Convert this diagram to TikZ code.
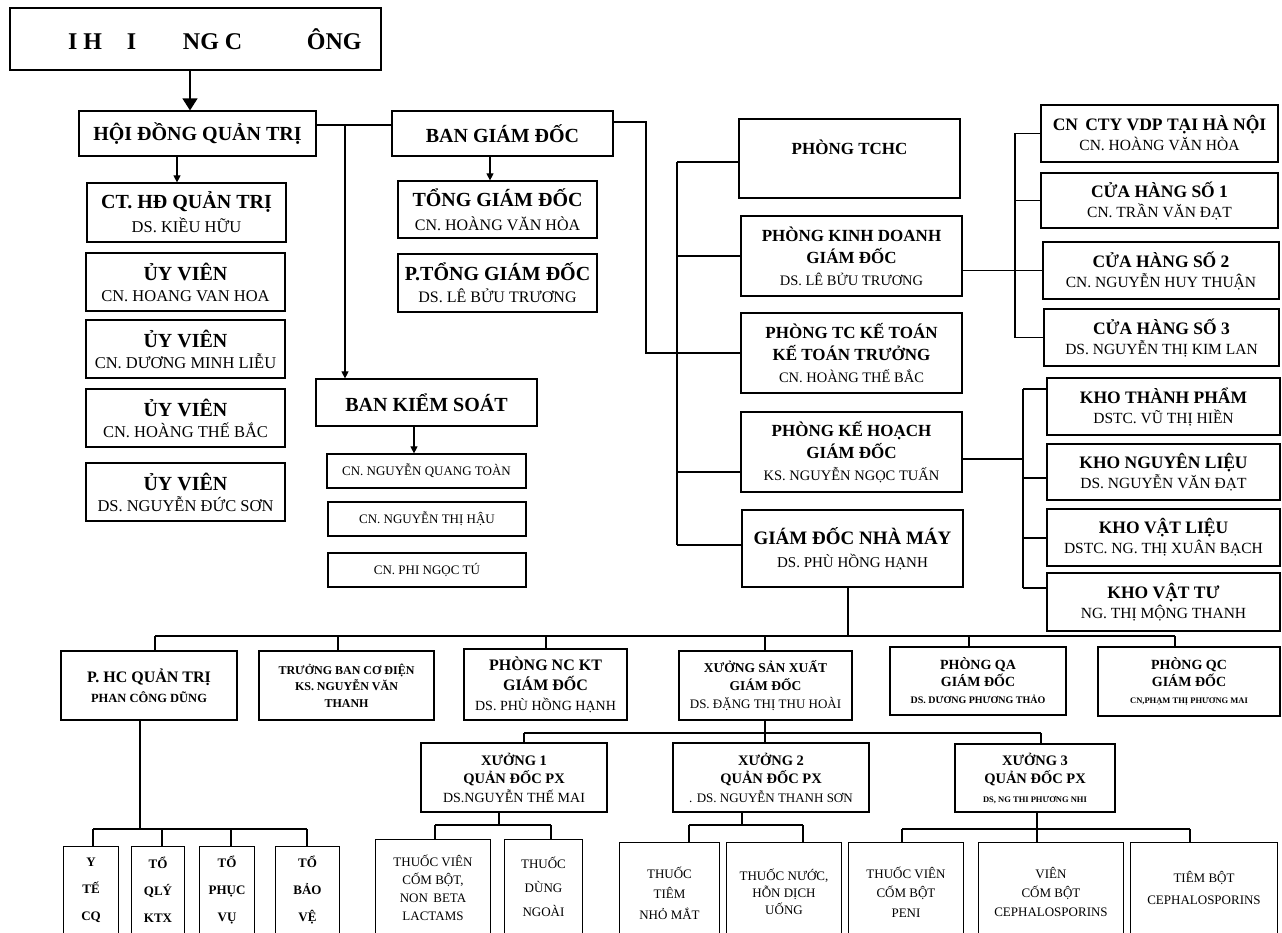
\documentclass[tikz,border=0pt]{standalone}
\usepackage{fontspec}
\setmainfont{Liberation Serif}
\usetikzlibrary{arrows.meta}
\newcommand\subt[2]{{\fontsize{#1}{#1}\selectfont\mdseries #2}}
\newcommand\subb[2]{{\fontsize{#1}{#1}\selectfont\bfseries #2}}
\newcommand\openbox[1]{\draw[bxl] ([yshift=-30pt]#1.south west) -- (#1.north west) -- (#1.north east) -- ([yshift=-30pt]#1.south east);}
\tikzset{
  bx/.style={draw, line width=1.2pt, align=center, inner sep=0pt},
  bxl/.style={line width=1.2pt},
  ob/.style={align=center, inner sep=0pt, font=\fontsize{13}{20}\selectfont},
  ln/.style={line width=1.1pt},
  arr/.style={line width=1.1pt, -{Triangle[length=7pt,width=7pt]}},
  bigarr/.style={line width=1.3pt, -{Triangle[length=12pt,width=15pt]}},
  tA/.style={font=\fontsize{20}{24}\selectfont\bfseries},
  tB/.style={font=\fontsize{17}{22}\selectfont\bfseries},
  tC/.style={font=\fontsize{17.5}{20}\selectfont\bfseries},
  tD/.style={font=\fontsize{14.5}{18.5}\selectfont\bfseries},
}
\begin{document}
\begin{tikzpicture}[x=1pt,y=-1pt]
\useasboundingbox (0,0) rectangle (1282,933);
\clip (0,0) rectangle (1282,933);

% ---------- top ----------
\node[bx, minimum width=371pt, minimum height=62pt, font=\fontsize{24}{28}\selectfont\bfseries] (top) at (195.5,39)
  {\makebox[371pt][l]{\hspace{58pt}\rlap{I H}\hspace{59pt}\rlap{I}\hspace{56pt}\rlap{NG C}\hspace{124pt}\rlap{ÔNG}}};

% ---------- left column ----------
\node[bx, tA, minimum width=237pt, minimum height=45pt] (hdqt) at (197.5,133.5) {HỘI ĐỒNG QUẢN TRỊ};
\node[bx, tA, minimum width=199pt, minimum height=59pt] (ct) at (186.5,212.5) {CT. HĐ QUẢN TRỊ\\\subt{16.5}{DS. KIỀU HỮU}};
\node[bx, tA, minimum width=199pt, minimum height=58pt, font=\fontsize{20}{21}\selectfont\bfseries] (uv1) at (185.5,282) {ỦY VIÊN\\\subt{16.5}{CN. HOANG VAN HOA}};
\node[bx, tA, minimum width=199pt, minimum height=58pt, font=\fontsize{20}{21}\selectfont\bfseries] (uv2) at (185.5,349) {ỦY VIÊN\\\subt{16.5}{CN. DƯƠNG MINH LIỄU}};
\node[bx, tA, minimum width=199pt, minimum height=58pt, font=\fontsize{20}{21}\selectfont\bfseries] (uv3) at (185.5,418) {ỦY VIÊN\\\subt{16.5}{CN. HOÀNG THẾ BẮC}};
\node[bx, tA, minimum width=199pt, minimum height=58pt, font=\fontsize{20}{21}\selectfont\bfseries] (uv4) at (185.5,492) {ỦY VIÊN\\\subt{16.5}{DS. NGUYỄN ĐỨC SƠN}};

% ---------- ban giam doc / kiem soat ----------
\node[bx, tA, minimum width=221pt, minimum height=45pt] (bgd) at (502.5,133.5) {BAN GIÁM ĐỐC};
\node[bx, tA, minimum width=199pt, minimum height=57pt] (tgd) at (497.5,209.5) {TỔNG GIÁM ĐỐC\\\subt{16}{CN. HOÀNG VĂN HÒA}};
\node[bx, tA, minimum width=199pt, minimum height=58pt, font=\fontsize{20}{22}\selectfont\bfseries] (ptgd) at (497.5,283) {P.TỔNG GIÁM ĐỐC\\\subt{16}{DS. LÊ BỬU TRƯƠNG}};
\node[bx, tA, minimum width=221pt, minimum height=47pt] (bks) at (426.5,402.5) {BAN KIỂM SOÁT};
\node[bx, minimum width=199pt, minimum height=34pt, font=\fontsize{13}{15}\selectfont] (ks1) at (426.5,471) {CN. NGUYỄN QUANG TOÀN};
\node[bx, minimum width=198pt, minimum height=34pt, font=\fontsize{13}{15}\selectfont] (ks2) at (427,519) {CN. NGUYỄN THỊ HẬU};
\node[bx, minimum width=198pt, minimum height=34pt, font=\fontsize{13}{15}\selectfont] (ks3) at (427,570) {CN. PHI NGỌC TÚ};

% ---------- phong ban ----------
\node[bx, tB, minimum width=221pt, minimum height=79pt] (tchc) at (849.5,158.5) {PHÒNG TCHC\\~};
\node[bx, tB, minimum width=221pt, minimum height=80pt] (kd) at (851.5,256) {PHÒNG KINH DOANH\\GIÁM ĐỐC\\\subt{14.5}{DS. LÊ BỬU TRƯƠNG}};
\node[bx, tB, minimum width=221pt, minimum height=80pt] (tckt) at (851.5,353) {PHÒNG TC KẾ TOÁN\\KẾ TOÁN TRƯỞNG\\\subt{14.5}{CN. HOÀNG THẾ BẮC}};
\node[bx, tB, minimum width=221pt, minimum height=80pt] (kh) at (851.5,452) {PHÒNG KẾ HOẠCH\\GIÁM ĐỐC\\\subt{14.5}{KS. NGUYỄN NGỌC TUẤN}};
\node[bx, minimum width=221pt, minimum height=77pt, font=\fontsize{19}{23}\selectfont\bfseries] (gdnm) at (852.5,548.5) {GIÁM ĐỐC NHÀ MÁY\\\subt{15}{DS. PHÙ HỒNG HẠNH}};

% ---------- right column ----------
\node[bx, tC, minimum width=237pt, minimum height=57pt] (cn) at (1159.5,133.5) {CN\, CTY VDP TẠI HÀ NỘI\\\subt{15.5}{CN. HOÀNG VĂN HÒA}};
\node[bx, tC, minimum width=237pt, minimum height=55pt] (ch1) at (1159.5,200.5) {CỬA HÀNG SỐ 1\\\subt{15.5}{CN. TRẦN VĂN ĐẠT}};
\node[bx, tC, minimum width=236pt, minimum height=57pt] (ch2) at (1161,270.5) {CỬA HÀNG SỐ 2\\\subt{15.5}{CN. NGUYỄN HUY THUẬN}};
\node[bx, tC, minimum width=235pt, minimum height=57pt] (ch3) at (1161.5,337.5) {CỬA HÀNG SỐ 3\\\subt{15.5}{DS. NGUYỄN THỊ KIM LAN}};
\node[bx, tC, minimum width=233pt, minimum height=57pt] (ktp) at (1163.5,406.5) {KHO THÀNH PHẨM\\\subt{15.5}{DSTC. VŨ THỊ HIỀN}};
\node[bx, tC, minimum width=233pt, minimum height=56pt] (knl) at (1163.5,472) {KHO NGUYÊN LIỆU\\\subt{15.5}{DS. NGUYỄN VĂN ĐẠT}};
\node[bx, tC, minimum width=233pt, minimum height=57pt] (kvl) at (1163.5,537.5) {KHO VẬT LIỆU\\\subt{15.5}{DSTC. NG. THỊ XUÂN BẠCH}};
\node[bx, tC, minimum width=233pt, minimum height=58pt] (kvt) at (1163.5,602) {KHO VẬT TƯ\\\subt{15.5}{NG. THỊ MỘNG THANH}};

% ---------- bottom row 1 ----------
\node[bx, minimum width=176pt, minimum height=69pt, font=\fontsize{16}{20}\selectfont\bfseries] (phc) at (149,685.5) {P. HC QUẢN TRỊ\\\subb{12.5}{PHAN CÔNG DŨNG}};
\node[bx, minimum width=175pt, minimum height=69pt, font=\fontsize{12}{16.5}\selectfont\bfseries] (tbcd) at (346.5,685.5) {TRƯỞNG BAN CƠ ĐIỆN\\KS. NGUYỄN VĂN\\THANH};
\node[bx, minimum width=163pt, minimum height=71pt, font=\fontsize{16}{20}\selectfont\bfseries] (nckt) at (545.5,684.5) {PHÒNG NC KT\\GIÁM ĐỐC\\\subt{14}{DS. PHÙ HỒNG HẠNH}};
\node[bx, minimum width=173pt, minimum height=69pt, font=\fontsize{13.5}{18}\selectfont\bfseries] (xsx) at (765.5,685.5) {XƯỞNG SẢN XUẤT\\GIÁM ĐỐC\\\subt{13}{DS. ĐẶNG THỊ THU HOÀI}};
\node[bx, minimum width=176pt, minimum height=68pt, font=\fontsize{14}{17}\selectfont\bfseries] (pqa) at (978,681) {PHÒNG QA\\GIÁM ĐỐC\\\subb{10}{DS. DƯƠNG PHƯƠNG THẢO}};
\node[bx, minimum width=182pt, minimum height=69pt, font=\fontsize{14}{17}\selectfont\bfseries] (pqc) at (1189,681.5) {PHÒNG QC\\GIÁM ĐỐC\\\subb{8.5}{CN,PHẠM THỊ PHƯƠNG MAI}};

% ---------- xuong ----------
\node[bx, tD, minimum width=186pt, minimum height=69pt] (x1) at (514,777.5) {XƯỞNG 1\\QUẢN ĐỐC PX\\\subt{14}{DS.NGUYỄN THẾ MAI}};
\node[bx, tD, minimum width=196pt, minimum height=69pt] (x2) at (771,777.5) {XƯỞNG 2\\QUẢN ĐỐC PX\\\subt{13}{. DS. NGUYỄN THANH SƠN}};
\node[bx, tD, minimum width=160pt, minimum height=68pt] (x3) at (1035,778) {XƯỞNG 3\\QUẢN ĐỐC PX\\\subb{8.5}{DS, NG THI PHƯƠNG NHI}};

% ---------- bottom open boxes ----------
\node[ob, minimum width=54pt, minimum height=86pt, font=\fontsize{13}{27}\selectfont\bfseries] (yte) at (91,890) {Y\\TẾ\\CQ};
\node[ob, minimum width=52pt, minimum height=86pt, font=\fontsize{13}{27}\selectfont\bfseries] (qly) at (158,890) {TỔ\\QLÝ\\KTX};
\node[ob, minimum width=54pt, minimum height=86pt, font=\fontsize{13}{27}\selectfont\bfseries] (pv) at (227,890) {TỔ\\PHỤC\\VỤ};
\node[ob, minimum width=63pt, minimum height=86pt, font=\fontsize{13}{27}\selectfont\bfseries] (bv) at (307.5,890) {TỔ\\BẢO\\VỆ};
\node[ob, minimum width=114pt, minimum height=96pt, font=\fontsize{13}{18}\selectfont] (tv1) at (433,888) {THUỐC VIÊN\\CỐM BỘT,\\NON\, BETA\\LACTAMS};
\node[ob, minimum width=77pt, minimum height=94pt, font=\fontsize{13}{24}\selectfont] (tdn) at (543.5,887) {THUỐC\\DÙNG\\NGOÀI};
\node[ob, minimum width=99pt, minimum height=100pt, font=\fontsize{13}{20.5}\selectfont] (tt) at (669.5,893) {THUỐC\\TIÊM\\NHỎ MẮT};
\node[ob, minimum width=114pt, minimum height=98pt, font=\fontsize{13}{17}\selectfont] (tn) at (784,892) {THUỐC NƯỚC,\\HỖN DỊCH\\UỐNG};
\node[ob, minimum width=114pt, minimum height=98pt, font=\fontsize{13}{19.5}\selectfont] (peni) at (906,892) {THUỐC VIÊN\\CỐM BỘT\\PENI};
\node[ob, minimum width=144pt, minimum height=98pt, font=\fontsize{13}{19}\selectfont] (vien) at (1051,892) {VIÊN\\CỐM BỘT\\CEPHALOSPORINS};
\node[ob, minimum width=146pt, minimum height=90pt, font=\fontsize{13}{22}\selectfont] (tiem) at (1204,888) {TIÊM BỘT\\CEPHALOSPORINS};
\openbox{yte}\openbox{qly}\openbox{pv}\openbox{bv}
\openbox{tv1}\openbox{tdn}\openbox{tt}\openbox{tn}
\openbox{peni}\openbox{vien}\openbox{tiem}

% ---------- connectors ----------
\coordinate (ca0) at (190,0);
\draw[bigarr] (top.south -| ca0) -- (hdqt.north -| ca0);
\coordinate (ca1) at (177,0);
\draw[arr] (hdqt.south -| ca1) -- (ct.north -| ca1);
\coordinate (cj1) at (345,125);
\draw[ln] (hdqt.east |- cj1) -- (bgd.west |- cj1);
\draw[arr] (cj1) -- (bks.north -| cj1);
\coordinate (ca2) at (490,0);
\draw[arr] (bgd.south -| ca2) -- (tgd.north -| ca2);
\coordinate (ca3) at (414,0);
\draw[arr] (bks.south -| ca3) -- (ks1.north -| ca3);
\coordinate (cr1) at (646,122);
\draw[ln] (bgd.east |- cr1) -- (cr1) -- (cr1 |- tckt.west) -- (tckt.west);

\coordinate (cv1) at (677,162);
\coordinate (cv2) at (677,545);
\coordinate (cv3) at (677,472);
\draw[ln] (cv1) -- (cv2);
\draw[ln] (cv1) -- (cv1 -| tchc.west);
\draw[ln] (kd.west -| cv1) -- (kd.west);
\draw[ln] (cv3) -- (cv3 -| kh.west);
\draw[ln] (cv2) -- (cv2 -| gdnm.west);

\coordinate (cc0) at (1015,0);
\draw[ln] (kd.east |- ch2.west) -- (ch2.west);
\draw[ln] (cc0 |- cn.west) -- (cc0 |- ch3.west);
\draw[ln] (cc0 |- cn.west) -- (cn.west);
\draw[ln] (cc0 |- ch1.west) -- (ch1.west);
\draw[ln] (cc0 |- ch3.west) -- (ch3.west);

\coordinate (ck0) at (1023,389);
\coordinate (ck1) at (1023,478);
\coordinate (ck2) at (1023,538);
\coordinate (ck3) at (1023,588);
\coordinate (ckh) at (1023,459);
\draw[ln] (kh.east |- ckh) -- (ckh);
\draw[ln] (ck0) -- (ck3);
\draw[ln] (ck0) -- (ck0 -| ktp.west);
\draw[ln] (ck1) -- (ck1 -| knl.west);
\draw[ln] (ck2) -- (ck2 -| kvl.west);
\draw[ln] (ck3) -- (ck3 -| kvt.west);

\coordinate (cg0) at (848,636);
\coordinate (cgL) at (155,636);
\coordinate (cgR) at (1175,636);
\coordinate (cg2) at (338,636);
\coordinate (cg3) at (546,636);
\coordinate (cg4) at (765,636);
\coordinate (cg5) at (969,636);
\draw[ln] (gdnm.south -| cg0) -- (cg0);
\draw[ln] (cgL) -- (cgR);
\draw[ln] (cgL) -- (phc.north -| cgL);
\draw[ln] (cg2) -- (tbcd.north -| cg2);
\draw[ln] (cg3) -- (nckt.north -| cg3);
\draw[ln] (cg4) -- (xsx.north -| cg4);
\draw[ln] (cg5) -- (pqa.north -| cg5);
\draw[ln] (cgR) -- (pqc.north -| cgR);

\coordinate (cs0) at (765,733);
\coordinate (csL) at (524,733);
\coordinate (csR) at (1041,733);
\draw[ln] (xsx.south -| cs0) -- (x2.north -| cs0);
\draw[ln] (csL) -- (csR);
\draw[ln] (csL) -- (x1.north -| csL);
\draw[ln] (csR) -- (x3.north -| csR);

\coordinate (cp0) at (140,829);
\coordinate (cpa) at (93,829);
\coordinate (cpb) at (162,829);
\coordinate (cpc) at (231,829);
\coordinate (cpd) at (307,829);
\draw[ln] (phc.south -| cp0) -- (cp0);
\draw[ln] (cpa) -- (cpd);
\draw[ln] (cpa) -- (yte.north -| cpa);
\draw[ln] (cpb) -- (qly.north -| cpb);
\draw[ln] (cpc) -- (pv.north -| cpc);
\draw[ln] (cpd) -- (bv.north -| cpd);

\coordinate (cq0) at (499,825);
\coordinate (cqa) at (435,825);
\coordinate (cqb) at (551,825);
\draw[ln] (x1.south -| cq0) -- (cq0);
\draw[ln] (cqa) -- (cqb);
\draw[ln] (cqa) -- (tv1.north -| cqa);
\draw[ln] (cqb) -- (tdn.north -| cqb);

\coordinate (cu0) at (742,825);
\coordinate (cua) at (689,825);
\coordinate (cub) at (803,825);
\draw[ln] (x2.south -| cu0) -- (cu0);
\draw[ln] (cua) -- (cub);
\draw[ln] (cua) -- (tt.north -| cua);
\draw[ln] (cub) -- (tn.north -| cub);

\coordinate (cw0) at (1037,829);
\coordinate (cwa) at (902,829);
\coordinate (cwb) at (1190,829);
\draw[ln] (x3.south -| cw0) -- (cw0) -- (vien.north -| cw0);
\draw[ln] (cwa) -- (cwb);
\draw[ln] (cwa) -- (peni.north -| cwa);
\draw[ln] (cwb) -- (tiem.north -| cwb);
\end{tikzpicture}
\end{document}
